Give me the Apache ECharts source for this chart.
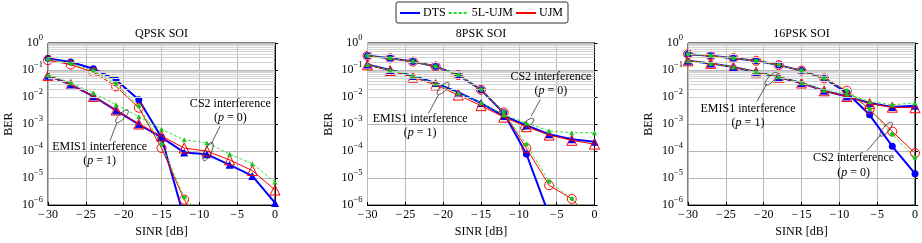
<!DOCTYPE html>
<html><head><meta charset="utf-8">
<script src="https://cdn.jsdelivr.net/npm/echarts@6/dist/echarts.min.js"></script>
<style>html,body{margin:0;padding:0;background:#fff}#c{width:922px;height:243px}</style>
</head><body><div id="c"></div>
<script>
// ---------------- data ----------------
const sinr = [-30, -27, -24, -21, -18, -15, -12, -9, -6, -3, 0];
const xTicks = [-30, -25, -20, -15, -10, -5, 0];
const yTickExps = [0, -1, -2, -3, -4, -5, -6];
const panelTitles = ['QPSK SOI', '8PSK SOI', '16PSK SOI'];
const methods = ['DTS', '5L-UJM', 'UJM'];

// QPSK SOI
const qpskCs2Dts  = [0.27, 0.197, 0.112, 0.043, 0.0080, 3.2e-4, 3.3e-7, null, null, null, null];
const qpskCs2Ujm  = [0.23, 0.158, 0.083, 0.0246, 0.0040, 1.3e-4, 1.6e-6, 8e-8, null, null, null];
const qpskCs25l   = [0.25, 0.176, 0.095, 0.031, 0.0046, 1.8e-4, 1.9e-6, 3e-7, null, null, null];
const qpskEmisDts = [0.062, 0.029, 0.0105, 3.2e-3, 9.8e-4, 3.2e-4, 8.9e-5, 7.6e-5, 3.1e-5, 1.2e-5, 1.2e-6];
const qpskEmisUjm = [0.062, 0.029, 0.0105, 3.3e-3, 1.0e-3, 3.6e-4, 1.29e-4, 1.0e-4, 4.7e-5, 1.9e-5, 3.6e-6];
const qpskEmis5l  = [0.066, 0.034, 0.014, 5.2e-3, 1.9e-3, 6.4e-4, 2.6e-4, 2.0e-4, 7.8e-5, 3.4e-5, 7.1e-6];

// 8PSK SOI
const psk8Cs2Dts  = [0.335, 0.27, 0.205, 0.135, 0.065, 0.0186, 2.6e-3, 7.8e-5, 4.2e-7, null, null];
const psk8Cs2Ujm  = [0.335, 0.27, 0.205, 0.135, 0.065, 0.0186, 2.7e-3, 1.28e-4, 5.4e-6, 1.7e-6, 2.3e-7];
const psk8Cs25l   = [0.335, 0.27, 0.205, 0.135, 0.065, 0.019, 2.8e-3, 1.75e-4, 7.4e-6, 1.7e-6, 2.5e-7];
const psk8EmisDts = [0.16, 0.1, 0.06, 0.033, 0.0148, 6.0e-3, 2.0e-3, 8.9e-4, 4.2e-4, 2.75e-4, 2.2e-4];
const psk8EmisUjm = [0.155, 0.096, 0.054, 0.028, 0.0118, 4.8e-3, 1.8e-3, 8.0e-4, 3.9e-4, 2.5e-4, 1.8e-4];
const psk8Emis5l  = [0.16, 0.1, 0.06, 0.031, 0.014, 6.2e-3, 2.2e-3, 1.1e-3, 5.5e-4, 4.8e-4, 4.8e-4];

// 16PSK SOI
const psk16Cs2Dts  = [0.387, 0.335, 0.275, 0.22, 0.152, 0.095, 0.049, 0.0145, 2.2e-3, 1.5e-4, 1.45e-5];
const psk16Cs2Ujm  = [0.387, 0.335, 0.275, 0.22, 0.152, 0.095, 0.049, 0.0172, 3.5e-3, 5.3e-4, 8.4e-5];
const psk16Cs25l   = [0.387, 0.335, 0.275, 0.22, 0.152, 0.095, 0.049, 0.017, 3.6e-3, 4.2e-4, 5.6e-5];
const psk16EmisDts = [0.22, 0.176, 0.129, 0.085, 0.054, 0.033, 0.017, 0.0105, 6.0e-3, 4.3e-3, 4.8e-3];
const psk16EmisUjm = [0.22, 0.176, 0.129, 0.085, 0.054, 0.033, 0.017, 0.0105, 5.8e-3, 4.2e-3, 4.0e-3];
const psk16Emis5l  = [0.22, 0.176, 0.13, 0.087, 0.056, 0.034, 0.018, 0.013, 6.9e-3, 5.2e-3, 6.0e-3];

// annotation texts
const annotationTexts = [
  [['CS2 interference', '(p = 0)'], ['EMIS1 interference', '(p = 1)']],
  [['CS2 interference', '(p = 0)'], ['EMIS1 interference', '(p = 1)']],
  [['EMIS1 interference', '(p = 1)'], ['CS2 interference', '(p = 0)']]
];

// ---------------- layout / style ----------------
const F = 'Liberation Serif';
const FS = 12;
const gridLeft = [48, 367.5, 688];
const gridW = 227, gridTop = 43, gridH = 164;
// anchors in data units [SINR dB, log10 BER]
const annoLayout = [
  [ {t: [-5.9, -2.25], e: [-8.85, -4.02, 10, 3.3, 65], p: [[-7.25, -3.07], [-8.45, -3.75]]},
    {t: [-23.18, -3.83], e: [-20.22, -2.71, 8.5, 3, 45], p: [[-21.8, -3.62], [-20.9, -2.95]]} ],
  [ {t: [-5.76, -1.244], e: [-8.9, -3.0, 8.3, 3, 40], p: [[-7.18, -2.1], [-8.37, -2.71]]},
    {t: [-23.04, -2.80], e: [-20.0, -1.683, 8, 3, 45], p: [[-21.94, -2.61], [-20.62, -1.914]]} ],
  [ {t: [-22.07, -2.437], e: [-19.02, -1.328, 8.5, 3, 47], p: [[-20.88, -2.159], [-19.59, -1.511]]},
    {t: [-8.12, -4.266], e: [-3.82, -3.194, 8.9, 3, 49], p: [[-6.35, -3.988], [-4.455, -3.377]]} ]
];

const panels = [
  {cs2: [qpskCs2Dts, qpskCs25l, qpskCs2Ujm], emis: [qpskEmisDts, qpskEmis5l, qpskEmisUjm]},
  {cs2: [psk8Cs2Dts, psk8Cs25l, psk8Cs2Ujm], emis: [psk8EmisDts, psk8Emis5l, psk8EmisUjm]},
  {cs2: [psk16Cs2Dts, psk16Cs25l, psk16Cs2Ujm], emis: [psk16EmisDts, psk16Emis5l, psk16EmisUjm]}
];

const styles = {
  'DTS': {color: '#0000ff', width: 2, type: 'solid', sym: ['circle', 'triangle'], size: [7, 8], fill: '#0000ff', border: 0, z: 3},
  'UJM': {color: '#ff0000', width: 1, type: 'solid', sym: ['circle', 'triangle'], size: [9, 10], fill: 'rgba(0,0,0,0)', border: 1, z: 4},
  '5L-UJM': {color: '#22dd22', width: 0.9, type: [3, 2], sym: ['circle', 'triangle'], size: [4.5, 5], fill: '#1fc21f', border: 0, z: 5}
};

const minorVals = [];
for (let e = -6; e < 0; e++) for (let m = 2; m <= 9; m++) minorVals.push(m * Math.pow(10, e));

const drawOrder = ['DTS', 'UJM', '5L-UJM'];
const series = [];
const grids = [], xAxes = [], yAxes = [], titles = [];
panels.forEach((pn, gi) => {
  grids.push({left: gridLeft[gi], top: gridTop, width: gridW, height: gridH, show: true,
    borderColor: '#000', borderWidth: 1, backgroundColor: 'transparent', containLabel: false});
  xAxes.push({type: 'value', gridIndex: gi, min: xTicks[0], max: xTicks[xTicks.length - 1], interval: 5,
    name: 'SINR [dB]', nameLocation: 'middle', nameGap: 18,
    nameTextStyle: {fontFamily: F, fontSize: FS, color: '#000'},
    axisLine: {show: true, lineStyle: {color: '#000', width: 1}},
    axisTick: {show: true, inside: true, length: 3, lineStyle: {color: '#000'}},
    axisLabel: {margin: 4, fontFamily: F, fontSize: FS, color: '#000',
      formatter: v => (v < 0 ? '\u2212\u200A' + (-v) : '' + v)},
    splitLine: {show: true, lineStyle: {color: '#b8b8b8', width: 1}}});
  yAxes.push({type: 'log', logBase: 10, gridIndex: gi, min: Math.pow(10, yTickExps[yTickExps.length - 1]), max: Math.pow(10, yTickExps[0]),
    name: 'BER', nameLocation: 'middle', nameGap: 33,
    nameTextStyle: {fontFamily: F, fontSize: FS, color: '#000'},
    axisLine: {show: true, lineStyle: {color: '#000', width: 1}},
    axisTick: {show: true, inside: true, length: 3, lineStyle: {color: '#000'}},
    axisLabel: {margin: 5, color: '#000',
      formatter: v => { const e = Math.round(Math.log10(v)); return '{b|10}{s|' + (e < 0 ? '\u2212' : '') + Math.abs(e) + '}'; },
      rich: {b: {fontFamily: F, fontSize: FS, lineHeight: 19, color: '#000'},
             s: {fontFamily: F, fontSize: 8.5, verticalAlign: 'top', color: '#000'}}},
    splitLine: {show: true, lineStyle: {color: '#b8b8b8', width: 1}}});
  titles.push({text: panelTitles[gi], left: gridLeft[gi] + gridW / 2, top: 28, textAlign: 'center', padding: 0,
    textStyle: {fontFamily: F, fontSize: FS, fontWeight: 'normal', color: '#000'}});

  series.push({type: 'line', xAxisIndex: gi, yAxisIndex: gi, data: [], z: 1, silent: true, animation: false,
    markLine: {silent: true, symbol: ['none', 'none'], label: {show: false}, animation: false,
      lineStyle: {color: '#d2d2d2', width: 1, type: 'solid'}, emphasis: {disabled: true},
      data: minorVals.map(v => ({yAxis: v}))}});

  drawOrder.forEach(name => {
    const mi = methods.indexOf(name);
    const st = styles[name];
    [pn.cs2[mi], pn.emis[mi]].forEach((vals, k) => {
      series.push({
        type: 'line', name: name, xAxisIndex: gi, yAxisIndex: gi, z: st.z, animation: false,
        data: sinr.map((x, i) => [x, vals[i]]),
        symbol: st.sym[k], symbolSize: st.size[k], showAllSymbol: true, clip: true,
        lineStyle: {color: st.color, width: st.width, type: st.type},
        itemStyle: {color: st.fill, borderColor: st.color, borderWidth: st.border},
        emphasis: {disabled: true}
      });
    });
  });
});

const option = {
  animation: false,
  backgroundColor: '#fff',
  title: titles,
  legend: {
    data: methods, left: 396, top: 2, orient: 'horizontal', selectedMode: false,
    itemWidth: 20, itemHeight: 10, itemGap: 2, padding: [5, 5, 4, 3],
    borderColor: '#333', borderWidth: 1, borderRadius: 2,
    itemStyle: {opacity: 0},
    textStyle: {fontFamily: F, fontSize: FS, color: '#000', padding: [0, 0, 0, -2]}
  },
  grid: grids, xAxis: xAxes, yAxis: yAxes, series: series
};

const chart = echarts.init(document.getElementById('c'), null, {renderer: 'canvas'});
chart.setOption(option);

// annotations placed through the axes' own scales
const graphics = [];
const toPx = (gi, pt) => chart.convertToPixel({gridIndex: gi}, [pt[0], Math.pow(10, pt[1])]);
annoLayout.forEach((list, gi) => {
  list.forEach((a, k) => {
    const lines = annotationTexts[gi][k];
    const c1 = toPx(gi, a.t);
    graphics.push({type: 'text', x: c1[0], y: c1[1], z: 10,
      style: {text: lines[0], font: FS + 'px "' + F + '"', fill: '#000', align: 'center', verticalAlign: 'middle'}});
    const m = lines[1].match(/^\((\w) = (\d)\)$/);
    graphics.push({type: 'text', x: c1[0], y: c1[1] + 14.5, z: 10,
      style: {text: '({i|' + m[1] + '} = ' + m[2] + ')', font: FS + 'px "' + F + '"', fill: '#000', align: 'center', verticalAlign: 'middle',
        rich: {i: {fontStyle: 'italic', fontFamily: F, fontSize: FS}}}});
    const ec = toPx(gi, a.e);
    graphics.push({type: 'ellipse', x: ec[0], y: ec[1], rotation: a.e[4] * Math.PI / 180, z: 10,
      shape: {cx: 0, cy: 0, rx: a.e[2], ry: a.e[3]}, style: {fill: 'none', stroke: '#333', lineWidth: 0.8}});
    const p1 = toPx(gi, a.p[0]), p2 = toPx(gi, a.p[1]);
    graphics.push({type: 'line', z: 10, shape: {x1: p1[0], y1: p1[1], x2: p2[0], y2: p2[1]},
      style: {stroke: '#333', lineWidth: 0.8}});
  });
});
chart.setOption({graphic: graphics});
</script>
</body></html>
